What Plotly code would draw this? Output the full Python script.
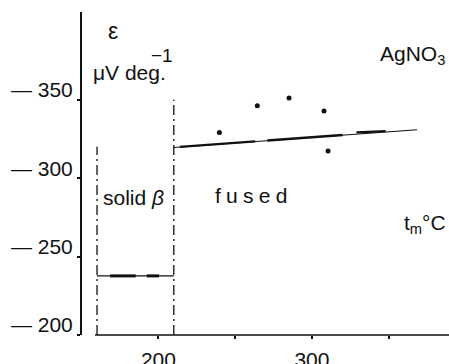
import plotly.graph_objects as go

# ---- data ----
transition_t = [160, 210]            # solid-beta start, melting point (deg C)
transition_top = [320, 350]          # upper end of each dash-dot marker line

solid_t = [160, 210]
solid_eps = [237.7, 237.7]
solid_thick_t = [[168.5, 185.2], [192.4, 200.4]]
solid_thick_eps = [[237.7, 237.7], [237.7, 237.7]]

fused_t = [210, 368.5]
fused_eps = [319.6, 330.9]
fused_thick_t = [[214, 263], [271, 320], [329, 348]]
fused_thick_eps = [[320.0, 323.5], [324.0, 327.6], [329.2, 330.0]]

point_t = [239.7, 264.4, 285.1, 307.9, 310.5]
point_eps = [329.2, 346.2, 351.1, 342.8, 317.3]

x_ticks = [200, 300]
x_ticktext = ["200", "300"]
x_minor_ticks = [250, 350]
y_ticks = [200, 250, 300, 350]
y_ticktext = ["\u2014 200", "\u2014 250", "\u2014 300", "\u2014 350"]

FONT = "Liberation Sans"
BLACK = "#111111"

fig = go.Figure()

# dash-dot phase boundaries
for t, top in zip(transition_t, transition_top):
    fig.add_trace(go.Scatter(x=[t, t], y=[200, top], mode="lines",
                             line=dict(color=BLACK, width=1.3, dash="10px,4px,2px,4px"),
                             hoverinfo="skip", showlegend=False))

# solid beta line
fig.add_trace(go.Scatter(x=solid_t, y=solid_eps, mode="lines",
                         line=dict(color=BLACK, width=1.1), showlegend=False))
for tt, ee in zip(solid_thick_t, solid_thick_eps):
    fig.add_trace(go.Scatter(x=tt, y=ee, mode="lines",
                             line=dict(color=BLACK, width=3), showlegend=False))

# fused line
fig.add_trace(go.Scatter(x=fused_t, y=fused_eps, mode="lines",
                         line=dict(color=BLACK, width=1.1), showlegend=False))
for tt, ee in zip(fused_thick_t, fused_thick_eps):
    fig.add_trace(go.Scatter(x=tt, y=ee, mode="lines",
                             line=dict(color=BLACK, width=2.4), showlegend=False))

# scattered points
fig.add_trace(go.Scatter(x=point_t, y=point_eps, mode="markers",
                         marker=dict(color=BLACK, size=5), showlegend=False))

# x-axis line (starts a little right of the y axis)
fig.add_shape(type="line", xref="paper", yref="paper", x0=0.0354, x1=1, y0=0, y1=0,
              line=dict(color=BLACK, width=1.5))

ann = dict(showarrow=False, xref="paper", yref="paper", font=dict(family=FONT, size=21, color=BLACK))
fig.add_annotation(text="\u03b5", x=0.0845, y=0.941, xanchor="center", yanchor="middle",
                   **{**ann, "font": dict(family=FONT, size=23, color=BLACK)})
fig.add_annotation(text="\u03bcV deg.", x=0.0245, y=0.814, xanchor="left", yanchor="middle", **ann)
fig.add_annotation(text="\u22121", x=0.218, y=0.864, xanchor="center", yanchor="middle",
                   **{**ann, "font": dict(family=FONT, size=19, color=BLACK)})
fig.add_annotation(text="AgNO<sub>3</sub>", x=0.8065, y=0.867, xanchor="left", yanchor="middle", **ann)
fig.add_annotation(text="solid <i>\u03b2</i>", x=0.052, y=0.427, xanchor="left", yanchor="middle", **ann)
fig.add_annotation(text="f\u2005u\u2005s\u2005e\u2005d", x=0.357, y=0.433, xanchor="left", yanchor="middle", **ann)
fig.add_annotation(text="t<sub>m</sub>\u00b0C", x=0.998, y=0.344, xanchor="right", yanchor="middle", **ann)

fig.update_layout(
    width=449, height=364,
    margin=dict(l=82, r=0, t=12, b=29, pad=0),
    paper_bgcolor="white", plot_bgcolor="white",
    font=dict(family=FONT, size=21, color=BLACK),
    xaxis=dict(range=[150.2, 389.3], showgrid=False, zeroline=False, showline=False,
               automargin=False,
               ticks="outside", ticklen=3, tickwidth=1.5, tickcolor=BLACK,
               tickvals=x_ticks, ticktext=x_ticktext, ticklabelstandoff=3,
               minor=dict(tickvals=x_minor_ticks, ticks="outside", ticklen=3,
                          tickwidth=1.5, tickcolor=BLACK, showgrid=False),
               tickfont=dict(family=FONT, size=21, color=BLACK)),
    yaxis=dict(range=[200, 406], showgrid=False, zeroline=False, showline=True,
               automargin=False,
               linecolor=BLACK, linewidth=2,
               ticks="outside", ticklen=3, tickwidth=1.5, tickcolor=BLACK,
               tickvals=y_ticks, ticktext=y_ticktext,
               ticklabelposition="outside", ticklabelshift=-10,
               tickfont=dict(family=FONT, size=21, color=BLACK)),
)

fig.write_html("out.html", config={"displayModeBar": False},
               post_script="document.body.style.margin='0';")
